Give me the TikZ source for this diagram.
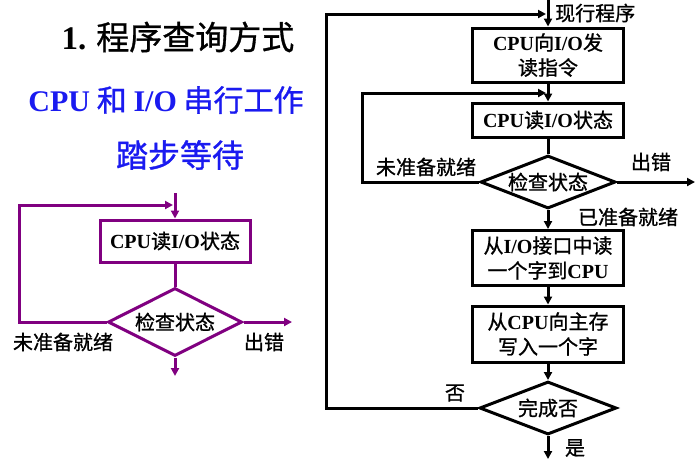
\documentclass[tikz,border=0pt]{standalone}
\usepackage{fontspec}
\usepackage{tikz}
\usetikzlibrary{shapes.geometric,arrows.meta}
\setmainfont{Noto Sans CJK SC}[FakeBold=1]
\newfontfamily\tms{Liberation Serif}
\newcommand{\en}[1]{{\tms\bfseries #1}}
\definecolor{flowpurple}{HTML}{800080}
\definecolor{titleblue}{HTML}{1A1AF0}
\tikzset{
  box/.style={draw,line width=3pt,minimum width=151pt,inner sep=0pt,align=center,font=\fontsize{20}{25}\selectfont},
  check/.style={draw,diamond,aspect=2.5,line width=3pt,minimum width=135pt,minimum height=53pt,inner sep=0pt,font=\fontsize{20}{25}\selectfont},
  lbl/.style={inner sep=0pt,font=\fontsize{20}{25}\selectfont},
  flow/.style={line width=3pt,-{Triangle[length=8pt,width=8pt]}},
}

\begin{document}
\begin{tikzpicture}[x=1pt,y=-1pt]
\useasboundingbox (0,0) rectangle (700,459);
% titles
\node[inner sep=0pt,font=\fontsize{33}{36}\selectfont] (title) at (178,37) {\en{1.} 程序查询方式};
\node[inner sep=0pt,text=titleblue,font=\fontsize{30}{34}\selectfont] (serial) at (166,100) {\en{CPU} 和 \en{I/O} 串行工作};
\node[inner sep=0pt,text=titleblue,font=\fontsize{32}{36}\selectfont] (wait) at (180,155) {踏步等待};

% left flow: stepping wait
\begin{scope}[flowpurple]
\node[box,minimum width=150pt,minimum height=42pt,text=black] (rdL) at (175,241) {\en{CPU}读\en{I/O}状态};
\node[check,aspect=2,minimum width=134pt,minimum height=68pt,text=black] (chkL) at (175,322) {检查状态};
\coordinate (inL) at (175,193);
\coordinate (loopL) at (19,205);
\coordinate (joinL) at (173,205);
\coordinate (errL) at (292,322);
\coordinate (outL) at (175,376);
\draw[flow] (inL) -- (rdL);
\draw[line width=3pt] (rdL) -- (chkL);
\draw[flow] (chkL.west) -| (loopL) -- (joinL);
\draw[flow] (chkL.east) -- (errL);
\draw[flow] (chkL.south) -- (outL);
\end{scope}
\node[lbl] (notL) at (63,342) {未准备就绪};
\node[lbl] (badL) at (264,342) {出错};

% right flow: full transfer
\node[box,minimum height=54pt] (cmd) at (548,55) {\en{CPU}向\en{I/O}发\\读指令};
\node[box,minimum height=34pt] (rd) at (548,120) {\en{CPU}读\en{I/O}状态};
\node[check] (chk) at (548,182) {检查状态};
\node[box,minimum height=55pt] (get) at (548,258) {从\en{I/O}接口中读\\一个字到\en{CPU}};
\node[box,minimum height=56pt] (put) at (548,334) {从\en{CPU}向主存\\写入一个字};
\node[check,minimum width=137pt] (done) at (548,408) {完成否};
\coordinate (in) at (548,0);
\coordinate (loopA) at (326,14);
\coordinate (joinA) at (546,14);
\coordinate (loopB) at (362,93);
\coordinate (joinB) at (546,93);
\coordinate (err) at (695,182);
\coordinate (out) at (548,459);
\draw[flow] (in) -- (cmd);
\draw[flow] (cmd) -- (rd);
\draw[line width=3pt] (rd) -- (chk);
\draw[flow] (chk) -- (get);
\draw[flow] (get) -- (put);
\draw[flow] (put) -- (done);
\draw[flow] (chk.west) -| (loopB) -- (joinB);
\draw[flow] (done.west) -| (loopA) -- (joinA);
\draw[flow] (chk.east) -- (err);
\draw[flow] (done.south) -- (out);
\node[lbl,anchor=west] (prog) at (555,13) {现行程序};
\node[lbl] (notR) at (426,167) {未准备就绪};
\node[lbl] (bad) at (651,162) {出错};
\node[lbl] (ready) at (628,217) {已准备就绪};
\node[lbl] (no) at (455,393) {否};
\node[lbl] (yes) at (575,448) {是};
\end{tikzpicture}
\end{document}
